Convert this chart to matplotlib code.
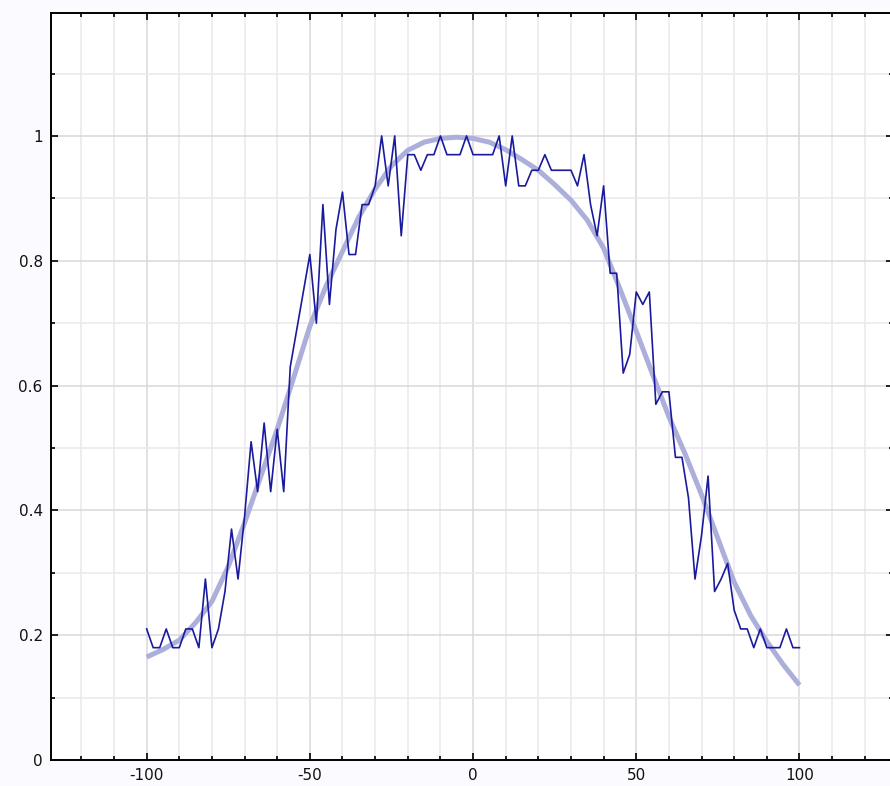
import numpy as np
import matplotlib
matplotlib.use("Agg")
import matplotlib.pyplot as plt
from matplotlib.ticker import MultipleLocator, FuncFormatter

# Measured samples (every 2 units)
sample_x = np.arange(-100, 101, 2)
sample_y = [
    0.21, 0.18, 0.18, 0.21, 0.18, 0.18, 0.21, 0.21, 0.18, 0.29,   # -100 .. -82
    0.18, 0.21, 0.27, 0.37, 0.29, 0.39, 0.51, 0.43, 0.54, 0.43,   # -80 .. -62
    0.53, 0.43, 0.63, 0.69, 0.75, 0.81, 0.70, 0.89, 0.73, 0.85,   # -60 .. -42
    0.91, 0.81, 0.81, 0.89, 0.89, 0.92, 1.00, 0.92, 1.00, 0.84,   # -40 .. -22
    0.97, 0.97, 0.945, 0.97, 0.97, 1.00, 0.97, 0.97, 0.97, 1.00,  # -20 .. -2
    0.97, 0.97, 0.97, 0.97, 1.00, 0.92, 1.00, 0.92, 0.92, 0.945,  # 0 .. 18
    0.945, 0.97, 0.945, 0.945, 0.945, 0.945, 0.92, 0.97, 0.89, 0.84,  # 20 .. 38
    0.92, 0.78, 0.78, 0.62, 0.65, 0.75, 0.73, 0.75, 0.57, 0.59,   # 40 .. 58
    0.59, 0.485, 0.485, 0.42, 0.29, 0.36, 0.455, 0.27, 0.29, 0.315,  # 60 .. 78
    0.24, 0.21, 0.21, 0.18, 0.21, 0.18, 0.18, 0.18, 0.21, 0.18,   # 80 .. 98
    0.18,                                                         # 100
]

# Fitted curve (every 5 units)
fit_x = np.arange(-100, 101, 5)
fit_y = [
    0.165, 0.177, 0.192, 0.220, 0.254, 0.310, 0.380, 0.455, 0.530, 0.612,
    0.695, 0.760, 0.815, 0.870, 0.915, 0.952, 0.977, 0.990, 0.996, 0.998,
    0.996, 0.990, 0.978, 0.962, 0.945, 0.922, 0.897, 0.865, 0.820, 0.755,
    0.687, 0.618, 0.550, 0.490, 0.425, 0.355, 0.285, 0.232, 0.190, 0.153,
    0.120,
]

W, H = 890, 786
fig = plt.figure(figsize=(W / 100, H / 100), dpi=100, facecolor="#fbfaff")
ax = fig.add_axes([51 / W, 26 / H, 841.5 / W, 747 / H])
ax.set_facecolor("white")

ax.set_xlim(-129.3, 128.5)
ax.set_ylim(0, 1.197)

ax.xaxis.set_major_locator(MultipleLocator(50))
ax.xaxis.set_minor_locator(MultipleLocator(10))
ax.yaxis.set_major_locator(MultipleLocator(0.2))
ax.yaxis.set_minor_locator(MultipleLocator(0.1))
ax.yaxis.set_major_formatter(FuncFormatter(lambda v, _: f"{v:g}"))
ax.xaxis.set_major_formatter(FuncFormatter(lambda v, _: f"{v:g}"))

ax.set_axisbelow(True)
ax.grid(which="major", color="#d9d7dc", lw=1.1)
ax.grid(which="minor", color="#ece8ef", lw=1.1)

for s in ax.spines.values():
    s.set_color("black")
    s.set_linewidth(1.4)

ax.tick_params(which="both", direction="in", top=True, right=True,
               color="black", width=1.2, labelsize=11, labelcolor="#111111")
ax.tick_params(which="major", length=5, pad=6)
ax.tick_params(which="minor", length=3)

ax.plot(fit_x, fit_y, color="#adafdb", lw=3.6, solid_capstyle="butt",
        solid_joinstyle="round", zorder=2)
ax.plot(sample_x, sample_y, color="#1a1a9c", lw=1.2, zorder=3)

fig.savefig("out.png", dpi=100, facecolor=fig.get_facecolor())
